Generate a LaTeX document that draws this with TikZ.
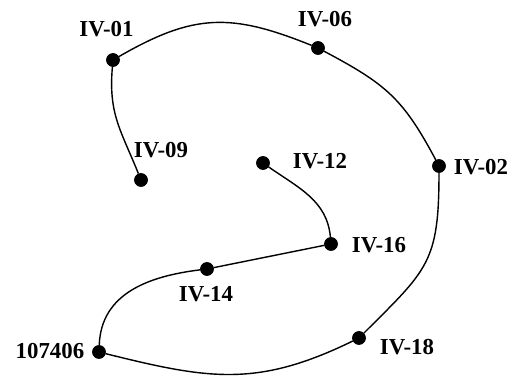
\documentclass[tikz,border=0pt]{standalone}
\usepackage{fontspec}
\setmainfont{Liberation Serif}

\begin{document}
\begin{tikzpicture}[x = 0.02cm, y = 0.02cm]
\path [use as bounding box] (0,0) rectangle (512,379);
\tikzstyle{bullet} = [circle, fill, draw, inner sep=0pt, minimum size=0.26cm]
\tikzstyle{tag} = [inner sep=0pt, font=\fontsize{13}{15}\selectfont\bfseries]
\tikzstyle{route} = [line width=.8pt]
\coordinate (A) at (113,319);
\coordinate (B) at (318,331);
\coordinate (C) at (439,213);
\coordinate (D) at (359,41);
\coordinate (E) at (99,27);
\coordinate (F) at (207,110);
\coordinate (G) at (331,135);
\coordinate (H) at (263,216);
\coordinate (K) at (141,199);
\node[bullet] (IV01) at (A) {};
\node[bullet] (IV06) at (B) {};
\node[bullet] (IV02) at (C) {};
\node[bullet] (IV18) at (D) {};
\node[bullet] (N107406) at (E) {};
\node[bullet] (IV14) at (F) {};
\node[bullet] (IV16) at (G) {};
\node[bullet] (IV12) at (H) {};
\node[bullet] (IV09) at (K) {};
\node[tag] (tIV01) at (106.5,350) {IV-01};
\node[tag] (tIV06) at (325,359.5) {IV-06};
\node[tag] (tIV02) at (481,212) {IV-02};
\node[tag] (tIV18) at (407,32) {IV-18};
\node[tag] (t107406) at (50,27.5) {107406};
\node[tag] (tIV14) at (206,85) {IV-14};
\node[tag] (tIV16) at (379,133.5) {IV-16};
\node[tag] (tIV12) at (320,218) {IV-12};
\node[tag] (tIV09) at (161,228.5) {IV-09};
	\draw[route] (IV09) to[out=112, in=-95, looseness=1.1] (IV01);
	\draw[route] (IV01) to[out=30, in=158, looseness=1.15] (IV06);
	\draw[route] (IV06) to[out=-28, in=118, looseness=1.15] (IV02);
	\draw[route] (IV02) to[out=-90, in=45, looseness=1.3] (IV18);
	\draw[route] (IV18) to[out=206, in=-14, looseness=1.1] (N107406);
	\draw[route] (N107406) to[out=88, in=187, looseness=1.05] (IV14);
	\draw[route] (IV14) -- (IV16);
	\draw[route] (IV16) to[out=95, in=-35, looseness=1] (IV12);
\end{tikzpicture}
\end{document}
